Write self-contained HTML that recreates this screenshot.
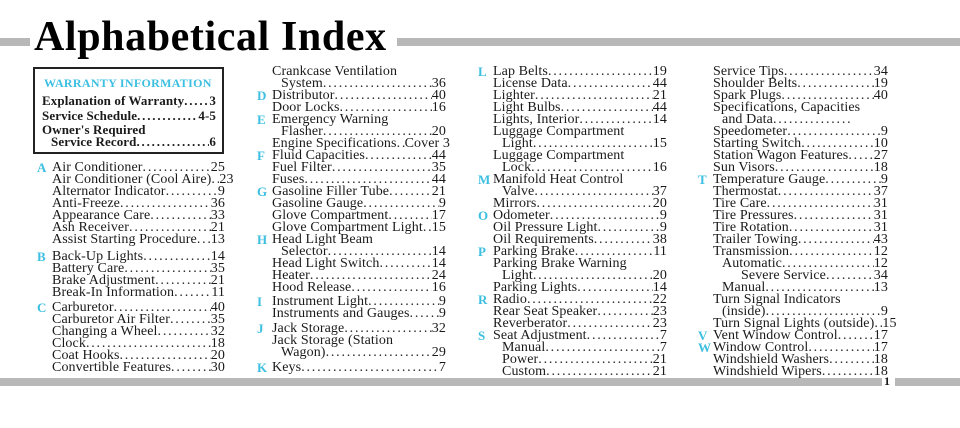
<!DOCTYPE html>
<html><head><meta charset="utf-8"><style>
body{margin:0;width:960px;height:428px;background:#fff;position:relative;overflow:hidden;font-family:"Liberation Serif",serif;color:#1a1a1a}
.bar{position:absolute;height:8px;background:#b8b8b8}
h1{position:absolute;left:34px;top:13px;margin:0;font:bold 42px/48px "Liberation Serif",serif;color:#000;letter-spacing:0.6px;white-space:nowrap}
.col{position:absolute;font-size:14px;letter-spacing:0.1px}
.r{position:relative;display:flex;height:12px;line-height:12px;white-space:nowrap}
.r .L{position:absolute;left:-15px;color:#3cbfe0;font-weight:bold;font-family:"Liberation Serif",serif;font-size:13px}
.r i{flex:1;min-width:8px;overflow:hidden;font-style:normal;letter-spacing:1.8px}
.r i:before{content:"....................................................................................................."}
.in{padding-left:9px}
.box{position:absolute;left:33px;top:67px;width:187px;height:83px;border:2px solid #222}
.box .h{position:absolute;left:9px;top:7px;color:#3cbfe0;font:bold 12px "Liberation Serif",serif;letter-spacing:0.3px;white-space:nowrap}
.box .r{font-weight:bold;font-size:13px;letter-spacing:0.1px}
</style></head><body>
<div class="bar" style="left:0;top:38px;width:30px"></div>
<div class="bar" style="left:397px;top:38px;width:563px"></div>
<h1>Alphabetical Index</h1>
<div class="bar" style="left:0;top:378px;width:882px"></div>
<div style="position:absolute;left:884px;top:374px;font:bold 12px 'Liberation Serif',serif">1</div>
<div class="bar" style="left:895px;top:378px;width:65px"></div>

<div class="box"><div class="h">WARRANTY INFORMATION</div>
<div style="position:absolute;left:7px;top:26px;width:174px">
<div class="r" style="height:15px">Explanation of Warranty<i></i>3</div>
<div class="r" style="height:14px">Service Schedule<i></i>4-5</div>
<div class="r">Owner's Required</div>
<div class="r in">Service Record<i></i>6</div>
</div></div>

<div class="col" style="left:52px;top:162px;width:173px">
<div class="r"><b class="L">A</b>Air Conditioner<i></i>25</div>
<div class="r">Air Conditioner (Cool Aire)<i></i>23</div>
<div class="r">Alternator Indicator<i></i>9</div>
<div class="r">Anti-Freeze<i></i>36</div>
<div class="r">Appearance Care<i></i>33</div>
<div class="r">Ash Receiver<i></i>21</div>
<div class="r">Assist Starting Procedure<i></i>13</div>
<div style="height:5px"></div>
<div class="r"><b class="L">B</b>Back-Up Lights<i></i>14</div>
<div class="r">Battery Care<i></i>35</div>
<div class="r">Brake Adjustment<i></i>21</div>
<div class="r">Break-In Information<i></i>11</div>
<div style="height:3px"></div>
<div class="r"><b class="L">C</b>Carburetor<i></i>40</div>
<div class="r">Carburetor Air Filter<i></i>35</div>
<div class="r">Changing a Wheel<i></i>32</div>
<div class="r">Clock<i></i>18</div>
<div class="r">Coat Hooks<i></i>20</div>
<div class="r">Convertible Features<i></i>30</div>
</div>

<div class="col" style="left:272px;top:66px;width:174px">
<div class="r">Crankcase Ventilation</div>
<div class="r in">System<i></i>36</div>
<div class="r"><b class="L">D</b>Distributor<i></i>40</div>
<div class="r">Door Locks<i></i>16</div>
<div class="r"><b class="L">E</b>Emergency Warning</div>
<div class="r in">Flasher<i></i>20</div>
<div class="r">Engine Specifications<i></i>Cover 3</div>
<div class="r"><b class="L">F</b>Fluid Capacities<i></i>44</div>
<div class="r">Fuel Filter<i></i>35</div>
<div class="r">Fuses<i></i>44</div>
<div class="r"><b class="L">G</b>Gasoline Filler Tube<i></i>21</div>
<div class="r">Gasoline Gauge<i></i>9</div>
<div class="r">Glove Compartment<i></i>17</div>
<div class="r">Glove Compartment Light<i></i>15</div>
<div class="r"><b class="L">H</b>Head Light Beam</div>
<div class="r in">Selector<i></i>14</div>
<div class="r">Head Light Switch<i></i>14</div>
<div class="r">Heater<i></i>24</div>
<div class="r">Hood Release<i></i>16</div>
<div class="r" style="margin-top:2px"><b class="L">I</b>Instrument Light<i></i>9</div>
<div class="r">Instruments and Gauges<i></i>9</div>
<div class="r" style="margin-top:3px"><b class="L">J</b>Jack Storage<i></i>32</div>
<div class="r">Jack Storage (Station</div>
<div class="r in">Wagon)<i></i>29</div>
<div class="r" style="margin-top:3px"><b class="L">K</b>Keys<i></i>7</div>
</div>

<div class="col" style="left:493px;top:66px;width:174px">
<div class="r"><b class="L">L</b>Lap Belts<i></i>19</div>
<div class="r">License Data<i></i>44</div>
<div class="r">Lighter<i></i>21</div>
<div class="r">Light Bulbs<i></i>44</div>
<div class="r">Lights, Interior<i></i>14</div>
<div class="r">Luggage Compartment</div>
<div class="r in">Light<i></i>15</div>
<div class="r">Luggage Compartment</div>
<div class="r in">Lock<i></i>16</div>
<div class="r"><b class="L">M</b>Manifold Heat Control</div>
<div class="r in">Valve<i></i>37</div>
<div class="r">Mirrors<i></i>20</div>
<div class="r"><b class="L">O</b>Odometer<i></i>9</div>
<div class="r">Oil Pressure Light<i></i>9</div>
<div class="r">Oil Requirements<i></i>38</div>
<div class="r"><b class="L">P</b>Parking Brake<i></i>11</div>
<div class="r">Parking Brake Warning</div>
<div class="r in">Light<i></i>20</div>
<div class="r">Parking Lights<i></i>14</div>
<div class="r"><b class="L">R</b>Radio<i></i>22</div>
<div class="r">Rear Seat Speaker<i></i>23</div>
<div class="r">Reverberator<i></i>23</div>
<div class="r"><b class="L">S</b>Seat Adjustment<i></i>7</div>
<div class="r in">Manual<i></i>7</div>
<div class="r in">Power<i></i>21</div>
<div class="r in">Custom<i></i>21</div>
</div>

<div class="col" style="left:713px;top:66px;width:175px">
<div class="r">Service Tips<i></i>34</div>
<div class="r">Shoulder Belts<i></i>19</div>
<div class="r">Spark Plugs<i></i>40</div>
<div class="r">Specifications, Capacities</div>
<div class="r in" style="width:130px">and Data<i></i></div>
<div class="r">Speedometer<i></i>9</div>
<div class="r">Starting Switch<i></i>10</div>
<div class="r">Station Wagon Features<i></i>27</div>
<div class="r">Sun Visors<i></i>18</div>
<div class="r"><b class="L">T</b>Temperature Gauge<i></i>9</div>
<div class="r">Thermostat<i></i>37</div>
<div class="r">Tire Care<i></i>31</div>
<div class="r">Tire Pressures<i></i>31</div>
<div class="r">Tire Rotation<i></i>31</div>
<div class="r">Trailer Towing<i></i>43</div>
<div class="r">Transmission<i></i>12</div>
<div class="r in">Automatic<i></i>12</div>
<div class="r" style="padding-left:28px">Severe Service<i></i>34</div>
<div class="r in">Manual<i></i>13</div>
<div class="r">Turn Signal Indicators</div>
<div class="r in">(inside)<i></i>9</div>
<div class="r">Turn Signal Lights (outside)<i></i>15</div>
<div class="r"><b class="L">V</b>Vent Window Control<i></i>17</div>
<div class="r"><b class="L">W</b>Window Control<i></i>17</div>
<div class="r">Windshield Washers<i></i>18</div>
<div class="r">Windshield Wipers<i></i>18</div>
</div>
</body></html>
